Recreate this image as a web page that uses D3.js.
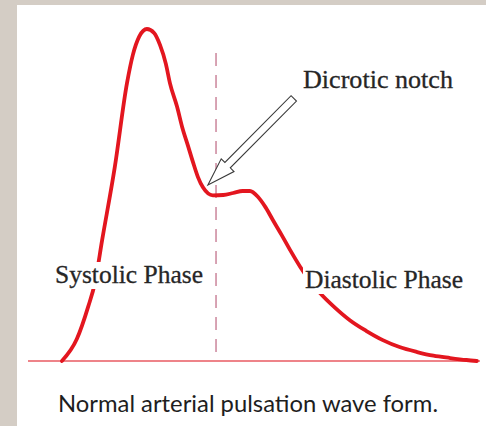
<!DOCTYPE html>
<html>
<head>
<meta charset="utf-8">
<script src="https://cdn.jsdelivr.net/npm/d3@7"></script>
<style>
    html, body { margin: 0; padding: 0; background: #d4cdc5; }
    svg { display: block; }
</style>
</head>
<body>
<div id="chart"></div>
<script>
// Pulse waveform (time 0-100, pressure 0-100 where peak = 100)
const waveTime = [7.5, 10.8, 13.3, 14.8, 16.4, 19.2, 21.9, 23.2, 24.6, 26.3, 27.9, 29.2, 30.5, 31.4, 33.0, 34.1, 35.4,
    36.5, 37.6, 38.7, 40.9, 43.2, 45.4, 47.5, 49.1, 50.9, 52.6, 54.2, 56.1, 58.0, 60.2, 62.4, 64.6, 67.9, 71.2, 74.8,
    78.5, 82.2, 86.1, 89.7, 93.4, 97.0, 99.3];
const wavePressure = [0, 6.6, 16.3, 23.5, 36.4, 58.4, 83.7, 92.2, 97.7, 100, 98.8, 95.2, 89.5, 83.7, 76.5, 70.5, 64.8,
    59.9, 55.4, 52.3, 49.9, 50.0, 50.6, 51.2, 51.2, 49.4, 46.2, 42.4, 38.0, 33.4, 28.4, 24.1, 20.5, 16.1, 12.3, 9.1,
    6.3, 4.2, 2.7, 1.6, 0.9, 0.3, 0];

const baselineTime = [0, 100];
const phaseDividerTime = 41.6;
const phaseDividerPressure = [2.4, 92.8];

// Dicrotic notch annotation: arrow tip and tail in data units
const notchArrowTip = [39.8, 53.0];
const notchArrowTail = [58.8, 79.1];

const labels = [
    { text: 'Dicrotic notch', x: 303, y: 88, width: 150 },
    { text: 'Systolic Phase', x: 55, y: 283, width: 148 },
    { text: 'Diastolic Phase', x: 305, y: 288, width: 158 }
];
const caption = 'Normal arterial pulsation wave form.';

const WIDTH = 486;
const HEIGHT = 426;
const RED = '#e3161f';

const svg = d3.select('#chart').append('svg')
    .attr('width', WIDTH)
    .attr('height', HEIGHT);

// paper
svg.append('rect')
    .attr('x', 17).attr('y', 5)
    .attr('width', WIDTH - 17).attr('height', HEIGHT - 5)
    .attr('fill', '#ffffff');

const x = d3.scaleLinear().domain([0, 100]).range([28, 480]);
const y = d3.scaleLinear().domain([0, 100]).range([361, 29]);

// baseline
svg.append('line')
    .attr('x1', x(baselineTime[0])).attr('x2', x(baselineTime[1]))
    .attr('y1', y(0)).attr('y2', y(0))
    .attr('stroke', '#e85a62')
    .attr('stroke-width', 1.6);

// phase divider
svg.append('line')
    .attr('x1', x(phaseDividerTime)).attr('x2', x(phaseDividerTime))
    .attr('y1', y(phaseDividerPressure[1])).attr('y2', y(phaseDividerPressure[0]))
    .attr('stroke', '#d49aac')
    .attr('stroke-width', 1.8)
    .attr('stroke-dasharray', '13,9');

// waveform
const waveLine = d3.line()
    .x(d => x(d[0]))
    .y(d => y(d[1]))
    .curve(d3.curveMonotoneX);

svg.append('path')
    .datum(d3.zip(waveTime, wavePressure))
    .attr('d', waveLine)
    .attr('fill', 'none')
    .attr('stroke', RED)
    .attr('stroke-width', 3.8)
    .attr('stroke-linecap', 'round');

// hollow arrow pointing at the notch
const tip = [x(notchArrowTip[0]), y(notchArrowTip[1])];
const tail = [x(notchArrowTail[0]), y(notchArrowTail[1])];
const arrowLength = Math.hypot(tail[0] - tip[0], tail[1] - tip[1]);
const arrowAngle = Math.atan2(tail[1] - tip[1], tail[0] - tip[0]) * 180 / Math.PI;
const headLength = 28;
const headHalf = 9;
const shaftHalf = 3.8;

svg.append('path')
    .attr('d', d3.line()([
        [0, 0], [headLength, -headHalf], [headLength, -shaftHalf], [arrowLength, -shaftHalf],
        [arrowLength, shaftHalf], [headLength, shaftHalf], [headLength, headHalf]
    ]) + 'Z')
    .attr('transform', `translate(${tip[0]},${tip[1]}) rotate(${arrowAngle})`)
    .attr('fill', '#ffffff')
    .attr('stroke', '#3a3a3a')
    .attr('stroke-width', 1.1)
    .attr('stroke-linejoin', 'miter');

// labels with white knock-out behind
const labelGroups = svg.selectAll('g.label')
    .data(labels)
    .join('g')
    .attr('class', 'label');

labelGroups.append('rect')
    .attr('x', d => d.x - 2)
    .attr('y', d => d.y - 21)
    .attr('width', d => d.width + 4)
    .attr('height', 27)
    .attr('fill', '#ffffff');

labelGroups.append('text')
    .attr('x', d => d.x)
    .attr('y', d => d.y)
    .attr('textLength', d => d.width)
    .attr('lengthAdjust', 'spacingAndGlyphs')
    .attr('font-family', '"Liberation Serif", "Times New Roman", serif')
    .attr('font-size', 26)
    .attr('fill', '#262626')
    .attr('stroke', '#262626')
    .attr('stroke-width', 0.3)
    .text(d => d.text);

svg.append('text')
    .attr('x', 58)
    .attr('y', 412)
    .attr('textLength', 380)
    .attr('lengthAdjust', 'spacingAndGlyphs')
    .attr('font-family', 'Lato, "Open Sans", sans-serif')
    .attr('font-size', 24)
    .attr('fill', '#1e1e1e')
    .text(caption);
</script>
</body>
</html>
